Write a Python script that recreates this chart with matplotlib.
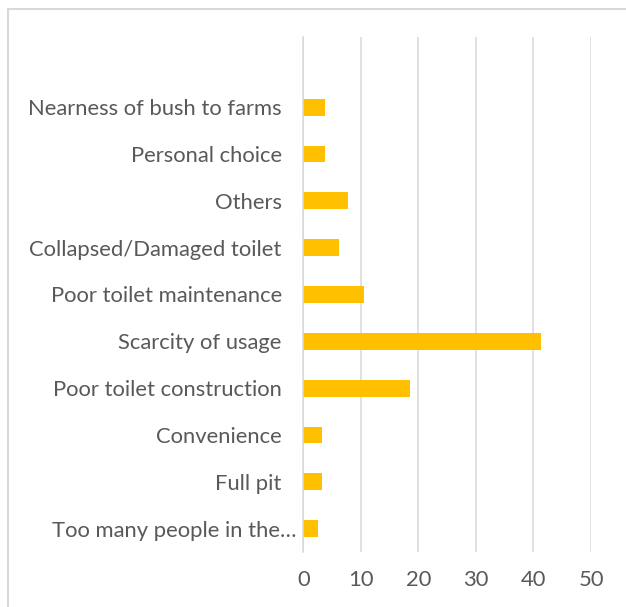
import matplotlib.pyplot as plt
from matplotlib.patches import Rectangle
from matplotlib.transforms import ScaledTranslation

# categories from bottom to top, the top slot of the axis is left empty
reasons = ["Too many people in the…", "Full pit", "Convenience",
           "Poor toilet construction", "Scarcity of usage",
           "Poor toilet maintenance", "Collapsed/Damaged toilet",
           "Others", "Personal choice", "Nearness of bush to farms"]
percent = [2.6, 3.2, 3.2, 18.6, 41.3, 10.6, 6.2, 7.8, 3.8, 3.8]
xticks = [0, 10, 20, 30, 40, 50]

plt.rcParams['font.family'] = ['Lato', 'DejaVu Sans']
text_col = "#595959"
grid_col = "#D9D9D9"

fig = plt.figure(figsize=(6.26, 6.07), dpi=100)
W, H = 626, 607
ax = fig.add_axes([303.3 / W, 1 - 552 / H, (591 - 303.3) / W, (552 - 37) / H])

pos = list(range(len(reasons)))
ax.barh(pos, percent, height=0.36, color="#FFC000", zorder=3)

ax.set_xlim(0, 50)
ax.set_ylim(-0.5, len(reasons) + 0.5)
ax.set_xticks(xticks)
ax.set_xticklabels([str(t) for t in xticks])
ax.set_yticks(pos)
ax.set_yticklabels(reasons)

ax.grid(axis="x", color=grid_col, linewidth=1.1, zorder=0)
for s in ["top", "right", "bottom"]:
    ax.spines[s].set_visible(False)
ax.spines["left"].set_color(grid_col)
ax.spines["left"].set_linewidth(1.1)
ax.spines["left"].set_zorder(4)

ax.tick_params(axis="both", length=0, colors=text_col, labelsize=15.8)
ax.tick_params(axis="y", pad=15.5)
ax.tick_params(axis="x", pad=13)

# the truncated label sits closer to the axis in the original
lab = ax.get_yticklabels()[0]
lab.set_transform(lab.get_transform() + ScaledTranslation(0.15, 0, fig.dpi_scale_trans))

# chart outer border (cut off on the right and bottom)
fig.patches.append(Rectangle((7.5 / W, -0.1), 1.2, 1 - 9 / H + 0.1,
                             transform=fig.transFigure, fill=False,
                             edgecolor=grid_col, linewidth=1.5))

fig.savefig("out.png", dpi=100)
